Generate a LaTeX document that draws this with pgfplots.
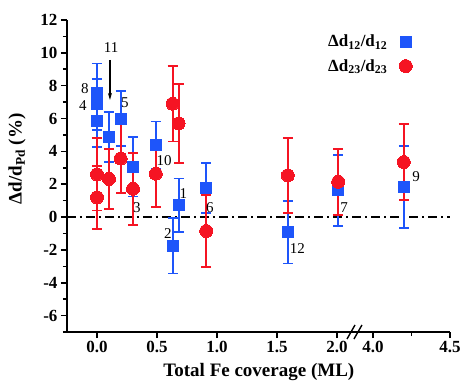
\documentclass[border=0pt]{standalone}
\usepackage{fontspec}
\setmainfont{Liberation Serif}
\usepackage{pgfplots}
\pgfplotsset{compat=1.18}
\usetikzlibrary{arrows.meta}
\definecolor{myblue}{RGB}{30,85,250}
\definecolor{myred}{RGB}{245,20,35}
% x positions: broken axis. For x<=2.0 plotted as is; for x>=4.0 plotted at 2.3+(x-4)*1.2833
\begin{document}
\begin{tikzpicture}
\useasboundingbox (-67pt,-49pt) rectangle (394pt,332pt);
\begin{axis}[
 at={(0,0)}, anchor=south west,
 scale only axis, width=383pt, height=312pt,
 xmin=-0.25, xmax=2.942, ymin=-7, ymax=12,
 axis lines=left, axis line style={-, line width=1.6pt},
 clip=false,
 xtick={0,0.5,1,1.5,2,2.3,2.942},
 xticklabels={0.0,0.5,1.0,1.5,2.0,4.0,4.5},
 minor xtick={2.621},
 ytick={-6,-4,...,12},
 yticklabels={-6,-4,-2,0,2,4,6,8,10,12},
 minor ytick={-7,-5,...,11},
 tick align=outside,
 major tick length=6pt, minor tick length=4pt,
 every tick/.style={line width=1.6pt, black},
 ticklabel style={font=\fontsize{17}{17}\selectfont\bfseries},
 xlabel={Total Fe coverage (ML)},
 ylabel={Δd/d\textsubscript{Pd} (\%)},
 label style={font=\fontsize{19}{19}\selectfont\bfseries},
 xlabel style={at={(axis description cs:0.501,-0.128)}, anchor=center},
 ylabel style={at={(axis description cs:-0.1305,0.555)}, anchor=center},
 legend style={draw=none, fill=none, at={(axis description cs:0.91,0.965)}, anchor=north east, font=\fontsize{17}{17}\selectfont\bfseries, row sep=7pt, column sep=10pt},
 legend cell align=right,
 legend plot pos=right,
]
\addplot[forget plot, black, line width=1.6pt, dash pattern=on 9pt off 4pt on 2pt off 4pt] coordinates {(-0.25,0) (2.942,0)};

\addplot[only marks, mark=square*, mark size=5.5pt, color=myblue, mark options={fill=myblue, draw=myblue, line width=0pt},
 error bars/y dir=both, error bars/y explicit,
 error bars/error bar style={line width=1.9pt, color=myblue},
 error bars/error mark options={rotate=90, mark size=5pt, line width=1.9pt, color=myblue}]
coordinates {
(0,7.55) +- (0,1.8)
(0,6.86) +- (0,1.55)
(0,5.84) +- (0,1.57)
(0.10,4.88) +- (0,1.5)
(0.197,6.0) +- (0,1.65)
(0.30,3.05) +- (0,1.8)
(0.49,4.37) +- (0,1.45)
(0.68,0.72) +- (0,1.63)
(0.63,-1.74) +- (0,1.7)
(0.91,1.75) +- (0,1.52)
(1.59,-0.93) +- (0,1.9)
(2.01,1.62) +- (0,2.17)
(2.557,1.82) +- (0,2.5)
};
\addlegendentry{Δd\textsubscript{12}/d\textsubscript{12}}

\addplot[only marks, mark=*, mark size=6.5pt, color=myred, mark options={fill=myred, draw=myred, line width=0pt},
 error bars/y dir=both, error bars/y explicit,
 error bars/error bar style={line width=1.9pt, color=myred},
 error bars/error mark options={rotate=90, mark size=5pt, line width=1.9pt, color=myred}]
coordinates {
(0,2.6) +- (0,2.2)
(0,1.2) +- (0,1.92)
(0.10,2.32) +- (0,1.85)
(0.197,3.56) +- (0,2.1)
(0.30,1.72) +- (0,2.2)
(0.49,2.64) +- (0,2.05)
(0.63,6.9) +- (0,2.3)
(0.68,5.7) +- (0,2.4)
(0.91,-0.85) +- (0,2.2)
(1.59,2.54) +- (0,2.3)
(2.01,2.15) +- (0,2.0)
(2.557,3.35) +- (0,2.3)
};
\addlegendentry{Δd\textsubscript{23}/d\textsubscript{23}}

\begin{scope}[every node/.style={font=\fontsize{15}{15}\selectfont}]
\node at (axis cs:-0.10,7.8) {8};
\node at (axis cs:-0.117,6.76) {4};
\node at (axis cs:0.117,10.3) {11};
\node at (axis cs:0.233,6.94) {5};
\node at (axis cs:0.333,0.58) {3};
\node at (axis cs:0.56,3.46) {10};
\node at (axis cs:0.72,1.44) {1};
\node at (axis cs:0.59,-1.0) {2};
\node at (axis cs:0.94,0.58) {6};
\node at (axis cs:1.67,-1.93) {12};
\node at (axis cs:2.06,0.58) {7};
\node at (axis cs:2.66,2.48) {9};
\end{scope}
\draw[-{Stealth[length=7pt,width=4pt]}, line width=1.2pt] (axis cs:0.108,9.57) -- (axis cs:0.108,7.13);
\draw[line width=1.4pt] ([xshift=-4pt,yshift=-7pt]axis cs:2.117,-7) -- ([xshift=4pt,yshift=7pt]axis cs:2.117,-7);
\draw[line width=1.4pt] ([xshift=-4pt,yshift=-7pt]axis cs:2.175,-7) -- ([xshift=4pt,yshift=7pt]axis cs:2.175,-7);
\end{axis}
\end{tikzpicture}
\end{document}
